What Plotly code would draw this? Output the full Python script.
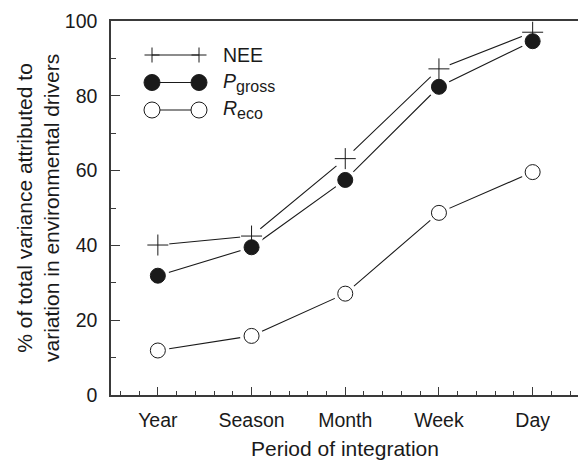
import plotly.graph_objects as go

periods = ["Year", "Season", "Month", "Week", "Day"]
nee = [40.1, 42.5, 63.2, 87.2, 97.0]
pgross = [31.9, 39.5, 57.5, 82.4, 94.6]
reco = [11.9, 15.8, 27.1, 48.7, 59.6]
yticks = [0, 20, 40, 60, 80, 100]

xpos = list(range(len(periods)))
INK = "#1a1a1a"
AX = "#3a3a3a"
FONT = "Liberation Sans, Arial, sans-serif"

fig = go.Figure()

series = [
    ("NEE", nee, dict(symbol="cross-thin-open", size=15, color=INK, line=dict(color=INK, width=1.0))),
    ("P", pgross, dict(symbol="circle", size=15, color=INK, line=dict(color=INK, width=1))),
    ("R", reco, dict(symbol="circle", size=15, color="white", line=dict(color=INK, width=1))),
]

# lines
for name, ys, mk in series:
    fig.add_trace(go.Scatter(x=xpos, y=ys, mode="lines", line=dict(color=INK, width=1.1),
                             showlegend=False, hoverinfo="skip"))
# white halos to create gaps around markers
for name, ys, mk in series:
    fig.add_trace(go.Scatter(x=xpos, y=ys, mode="markers",
                             marker=dict(symbol="circle", size=23, color="white", line=dict(width=0)),
                             showlegend=False, hoverinfo="skip"))
# markers
for name, ys, mk in series:
    fig.add_trace(go.Scatter(x=xpos, y=ys, mode="markers", marker=mk, showlegend=False, name=name))

# custom legend (layout decoration in paper coordinates)
L = 111.0
W = 467.0
B = 395.0
H = 374.0
def px(xp):
    return (xp - L) / W
def py(yp):
    return (B - yp) / H

rows = [(55, "NEE", "plus"),
        (82.5, "<i>P</i><sub><span style=\"font-size:16px\">gross</span></sub>", "filled"),
        (110, "<i>R</i><sub><span style=\"font-size:16px\">eco</span></sub>", "open")]
xa, xb = px(152), px(199)
shapes = []
annotations = []
for yrow, label, kind in rows:
    yr = py(yrow)
    shapes.append(dict(type="line", xref="paper", yref="paper", x0=xa, x1=xb, y0=yr, y1=yr,
                       line=dict(color=INK, width=1.1)))
    if kind == "plus":
        for xc in (xa, xb):
            shapes.append(dict(type="line", xref="paper", yref="paper", xsizemode="pixel", ysizemode="pixel",
                               xanchor=xc, yanchor=yr, x0=-7.5, x1=7.5, y0=0, y1=0, line=dict(color=INK, width=1.0)))
            shapes.append(dict(type="line", xref="paper", yref="paper", xsizemode="pixel", ysizemode="pixel",
                               xanchor=xc, yanchor=yr, x0=0, x1=0, y0=-7.5, y1=7.5, line=dict(color=INK, width=1.0)))
    else:
        fill = INK if kind == "filled" else "white"
        for xc in (xa, xb):
            shapes.append(dict(type="circle", xref="paper", yref="paper", xsizemode="pixel", ysizemode="pixel",
                               xanchor=xc, yanchor=yr, x0=-8, x1=8, y0=-8, y1=8,
                               fillcolor=fill, line=dict(color=INK, width=1)))
    annotations.append(dict(text=label, xref="paper", yref="paper", x=px(221), y=yr, xanchor="left",
                            yanchor="middle", showarrow=False, font=dict(size=19.5, color=INK, family=FONT)))

annotations.append(dict(text="% of total variance attributed to<br>variation in environmental drivers",
                        xref="paper", yref="paper", x=0, y=0.5, xanchor="center", yanchor="middle",
                        xshift=-73, textangle=-90, showarrow=False,
                        font=dict(size=21, color=INK, family=FONT)))
annotations.append(dict(text="Period of integration", xref="paper", yref="paper", x=0.5, y=0,
                        xanchor="center", yanchor="middle", xshift=0, yshift=-53, showarrow=False,
                        font=dict(size=21, color=INK, family=FONT)))

fig.update_layout(
    width=578, height=462,
    margin=dict(l=111, r=0, t=21, b=67),
    paper_bgcolor="white", plot_bgcolor="white",
    font=dict(family=FONT, size=19.5, color=INK),
    shapes=shapes, annotations=annotations,
    showlegend=False,
)
fig.update_xaxes(
    range=[-0.5, 4.484], tickmode="array", tickvals=xpos, ticktext=periods,
    showgrid=False, zeroline=False, showline=True, linecolor=AX, linewidth=1.5, mirror=True,
    ticks="inside", ticklen=8, tickwidth=1.2, tickcolor=AX, ticklabelstandoff=7,
    minor=dict(ticks="inside", ticklen=4, tickwidth=1.2, tickcolor=AX, tick0=0, dtick=0.2, showgrid=False),
    tickfont=dict(size=19.5, color=INK, family=FONT),
)
fig.update_yaxes(
    range=[0, 100], tickmode="array", tickvals=yticks,
    showgrid=False, zeroline=False, showline=True, linecolor=AX, linewidth=1.5,
    ticks="inside", ticklen=9, tickwidth=1.2, tickcolor=AX, ticklabelstandoff=8,
    minor=dict(ticks="inside", ticklen=5, tickwidth=1.2, tickcolor=AX, tick0=10, dtick=20, showgrid=False),
    tickfont=dict(size=19.5, color=INK, family=FONT),
)

fig.write_html("out.html")
